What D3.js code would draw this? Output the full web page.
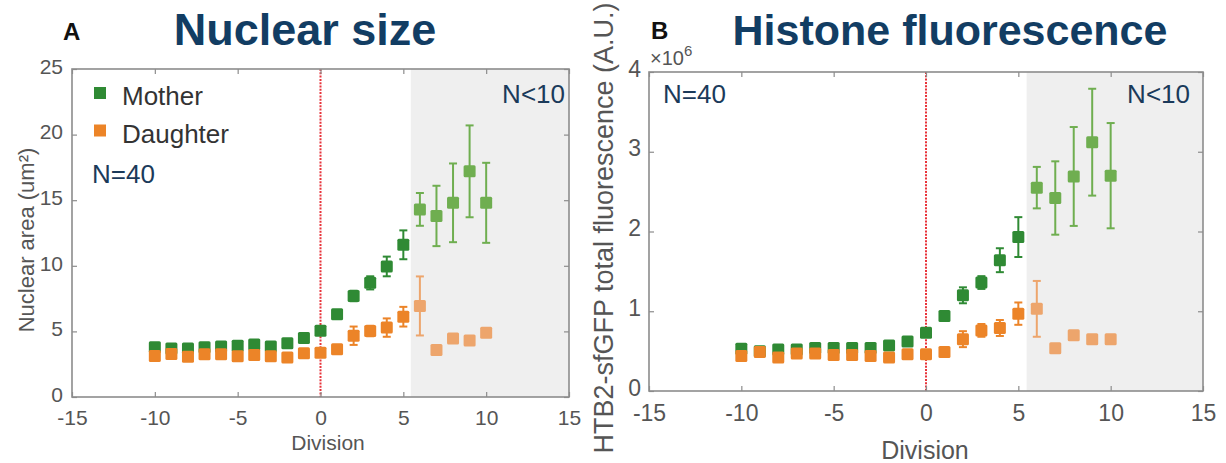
<!DOCTYPE html>
<html>
<head>
<meta charset="utf-8">
<script src="https://cdn.jsdelivr.net/npm/d3@7"></script>
<style>
  html, body { margin: 0; padding: 0; background: #fff; }
  svg { display: block; font-family: "Liberation Sans", Arial, Helvetica, sans-serif; }
</style>
</head>
<body>
<svg id="chart" width="1226" height="463"></svg>
<script>
// ---------------- DATA ----------------
const divisions = [-10, -9, -8, -7, -6, -5, -4, -3, -2, -1, 0, 1, 2, 3, 4, 5, 6, 7, 8, 9, 10];

// Panel A: nuclear area (um²)
const nucMother      = [3.8, 3.7, 3.7, 3.8, 3.85, 3.9, 4.0, 3.85, 4.1, 4.5, 5.05, 6.3, 7.7, 8.7, 9.95, 11.6, 14.3, 13.8, 14.8, 17.2, 14.8];
const nucMotherErr   = [0.2, 0.2, 0.2, 0.2, 0.2, 0.2, 0.2, 0.2, 0.25, 0.3, 0.3, 0.3, 0.4, 0.5, 0.75, 1.1, 1.25, 2.3, 3.0, 3.5, 3.05];
const nucDaughter    = [3.12, 3.28, 3.07, 3.25, 3.25, 3.1, 3.2, 3.1, 3.02, 3.33, 3.38, 3.63, 4.67, 5.03, 5.29, 6.12, 6.94, 3.58, 4.45, 4.3, 4.9];
const nucDaughterErr = [0.15, 0.15, 0.15, 0.15, 0.15, 0.15, 0.15, 0.15, 0.15, 0.15, 0.2, 0.2, 0.7, 0.4, 0.7, 0.75, 2.25, 0.15, 0.15, 0.15, 0.15];

// Panel B: HTB2-sfGFP total fluorescence (x10^6 A.U.)
const hisMother      = [0.53, 0.50, 0.52, 0.52, 0.54, 0.54, 0.54, 0.54, 0.57, 0.62, 0.73, 0.94, 1.2, 1.36, 1.64, 1.93, 2.55, 2.42, 2.69, 3.12, 2.70];
const hisMotherErr   = [0.03, 0.03, 0.03, 0.03, 0.03, 0.03, 0.03, 0.03, 0.04, 0.04, 0.05, 0.05, 0.1, 0.08, 0.15, 0.25, 0.26, 0.46, 0.62, 0.67, 0.66];
const hisDaughter    = [0.44, 0.49, 0.42, 0.47, 0.47, 0.45, 0.45, 0.44, 0.42, 0.46, 0.46, 0.49, 0.65, 0.76, 0.79, 0.97, 1.03, 0.535, 0.70, 0.65, 0.65];
const hisDaughterErr = [0.03, 0.03, 0.03, 0.03, 0.03, 0.03, 0.03, 0.03, 0.03, 0.03, 0.03, 0.03, 0.1, 0.08, 0.1, 0.14, 0.35, 0.03, 0.03, 0.03, 0.03];

const xTicks    = [-15, -10, -5, 0, 5, 10, 15];
const nucYTicks = [0, 5, 10, 15, 20, 25];
const hisYTicks = [0, 1, 2, 3, 4];
const seriesNames = ["Mother", "Daughter"];
const lowNStart = 5.45;   // shaded region (N<10) starts here

// ---------------- STYLE ----------------
const C = {
  mother: "#2f8a34", motherLight: "#6fae50",
  daughter: "#ec8428", daughterLight: "#eda56c",
  shade: "#efefef", axis: "#8c8c8c", tickText: "#555",
  title: "#123d63", nText: "#1b3a5a", red: "#e8333a"
};

const svg = d3.select("#chart");

function drawPanel(o) {
  const x = d3.scaleLinear().domain([-15, 15]).range([o.left, o.right]);
  const y = d3.scaleLinear().domain(o.yDomain).range([o.bottom, o.top]);
  const g = svg.append("g");

  // shaded region
  g.append("rect")
    .attr("x", x(lowNStart)).attr("y", o.top)
    .attr("width", x(15) - x(lowNStart)).attr("height", o.bottom - o.top)
    .attr("fill", C.shade);

  // red dotted line at division 0
  g.append("line")
    .attr("x1", x(0)).attr("x2", x(0)).attr("y1", o.top).attr("y2", o.bottom)
    .attr("stroke", C.red).attr("stroke-width", 2).attr("stroke-dasharray", "2,1.3");

  // axes (MATLAB box style, inward ticks)
  const fmt = d => String(d);
  const axB = d3.axisBottom(x).tickValues(xTicks).tickSizeInner(-5).tickSizeOuter(0).tickPadding(o.xPad).tickFormat(fmt);
  const axT = d3.axisTop(x).tickValues(xTicks).tickSizeInner(-5).tickSizeOuter(0).tickFormat("");
  const axL = d3.axisLeft(y).tickValues(o.yTicks).tickSizeInner(-5).tickSizeOuter(0).tickPadding(o.yPad).tickFormat(fmt);
  const axR = d3.axisRight(y).tickValues(o.yTicks).tickSizeInner(-5).tickSizeOuter(0).tickFormat("");
  const styleAx = (sel, fs) => {
    sel.select(".domain").remove();
    sel.selectAll(".tick line").attr("stroke", C.axis).attr("stroke-width", 1.2);
    sel.selectAll(".tick text").attr("fill", C.tickText).style("font-size", fs + "px");
  };
  g.append("g").attr("transform", `translate(0,${o.bottom})`).call(axB).call(s => styleAx(s, o.tickFont));
  g.append("g").attr("transform", `translate(0,${o.top})`).call(axT).call(s => styleAx(s, o.tickFont));
  g.append("g").attr("class", "yax").attr("transform", `translate(${o.left},0)`).call(axL).call(s => styleAx(s, o.tickFont));
  g.append("g").attr("transform", `translate(${o.right},0)`).call(axR).call(s => styleAx(s, o.tickFont));
  g.select(".yax").selectAll(".tick text").attr("dy", o.yDy);

  // axes box
  g.append("rect")
    .attr("x", o.left).attr("y", o.top)
    .attr("width", o.right - o.left).attr("height", o.bottom - o.top)
    .attr("fill", "none").attr("stroke", C.axis).attr("stroke-width", 1.6);

  // series
  const ms = 12, cap = 4;
  const series = [
    { vals: o.mother, errs: o.motherErr, c: C.mother, cl: C.motherLight },
    { vals: o.daughter, errs: o.daughterErr, c: C.daughter, cl: C.daughterLight }
  ];
  series.forEach(s => {
    const data = divisions.map((d, i) => ({ d, v: s.vals[i], e: s.errs[i] }));
    const col = p => (p.d > lowNStart ? s.cl : s.c);
    const eg = g.append("g");
    const pts = eg.selectAll("g.pt").data(data).enter().append("g");
    pts.append("line")
      .attr("x1", p => x(p.d)).attr("x2", p => x(p.d))
      .attr("y1", p => y(p.v - p.e)).attr("y2", p => y(p.v + p.e))
      .attr("stroke", col).attr("stroke-width", 2);
    pts.append("line")
      .attr("x1", p => x(p.d) - cap).attr("x2", p => x(p.d) + cap)
      .attr("y1", p => y(p.v + p.e)).attr("y2", p => y(p.v + p.e))
      .attr("stroke", col).attr("stroke-width", 2);
    pts.append("line")
      .attr("x1", p => x(p.d) - cap).attr("x2", p => x(p.d) + cap)
      .attr("y1", p => y(p.v - p.e)).attr("y2", p => y(p.v - p.e))
      .attr("stroke", col).attr("stroke-width", 2);
    pts.append("rect")
      .attr("x", p => x(p.d) - ms / 2).attr("y", p => y(p.v) - ms / 2)
      .attr("width", ms).attr("height", ms).attr("rx", 1.5)
      .attr("fill", col);
  });

  // x label
  g.append("text").attr("x", o.xLabelX).attr("y", o.xLabelY)
    .attr("text-anchor", "middle").attr("fill", C.tickText)
    .style("font-size", o.xLabelFont + "px").text("Division");
  // y label
  g.append("text")
    .attr("transform", `translate(${o.yLabelX},${o.yLabelY}) rotate(-90)`)
    .attr("text-anchor", "middle").attr("fill", C.tickText)
    .style("font-size", o.yLabelFont + "px").text(o.yLabel);

  return { x, y, g };
}

// ---------- Panel A ----------
drawPanel({
  left: 72, right: 569, top: 69, bottom: 397,
  yDomain: [0, 25], yTicks: nucYTicks, tickFont: 21, xPad: 13, yPad: 9, yDy: "0.2em",
  mother: nucMother, motherErr: nucMotherErr, daughter: nucDaughter, daughterErr: nucDaughterErr,
  xLabelX: 328, xLabelY: 450, xLabelFont: 21,
  yLabelX: 34, yLabelY: 240, yLabelFont: 22, yLabel: "Nuclear area (um\u00B2)"
});

// ---------- Panel B ----------
drawPanel({
  left: 649, right: 1203, top: 72, bottom: 391,
  yDomain: [0, 4], yTicks: hisYTicks, tickFont: 23, xPad: 14, yPad: 8, yDy: "0.18em",
  mother: hisMother, motherErr: hisMotherErr, daughter: hisDaughter, daughterErr: hisDaughterErr,
  xLabelX: 925, xLabelY: 459, xLabelFont: 25,
  yLabelX: 613, yLabelY: 228, yLabelFont: 27, yLabel: "HTB2-sfGFP total fluorescence (A.U.)"
});

// x10^6 exponent label
const expT = svg.append("text").attr("x", 650).attr("y", 65).attr("fill", C.tickText).style("font-size", "20px");
expT.append("tspan").text("\u00D710");
expT.append("tspan").attr("dy", -9).style("font-size", "15px").text("6");

// legend in panel A
const legendColors = [C.mother, C.daughter];
const lg = svg.append("g");
seriesNames.forEach((name, i) => {
  const yy = 93 + i * 37.5;
  lg.append("rect").attr("x", 94).attr("y", yy - 6).attr("width", 12).attr("height", 12).attr("fill", legendColors[i]);
  lg.append("text").attr("x", 122).attr("y", yy + 12).attr("fill", "#333").style("font-size", "26px").text(name);
});

// N annotations
svg.append("text").attr("x", 92).attr("y", 183).attr("fill", C.nText).style("font-size", "26px").text("N=40");
svg.append("text").attr("x", 565).attr("y", 103).attr("text-anchor", "end").attr("fill", C.nText).style("font-size", "26px").text("N<10");
svg.append("text").attr("x", 663).attr("y", 103).attr("fill", C.nText).style("font-size", "26px").text("N=40");
svg.append("text").attr("x", 1190).attr("y", 103).attr("text-anchor", "end").attr("fill", C.nText).style("font-size", "26px").text("N<10");

// panel letters and titles
svg.append("text").attr("x", 63).attr("y", 40).attr("fill", "#111").style("font-size", "24px").style("font-weight", "bold").text("A");
svg.append("text").attr("x", 305).attr("y", 45).attr("text-anchor", "middle").attr("fill", C.title).style("font-size", "45px").style("font-weight", "bold").text("Nuclear size");
svg.append("text").attr("x", 651).attr("y", 39).attr("fill", "#111").style("font-size", "24px").style("font-weight", "bold").text("B");
svg.append("text").attr("x", 950).attr("y", 45).attr("text-anchor", "middle").attr("fill", C.title).style("font-size", "43px").style("font-weight", "bold").text("Histone fluorescence");
</script>
</body>
</html>
